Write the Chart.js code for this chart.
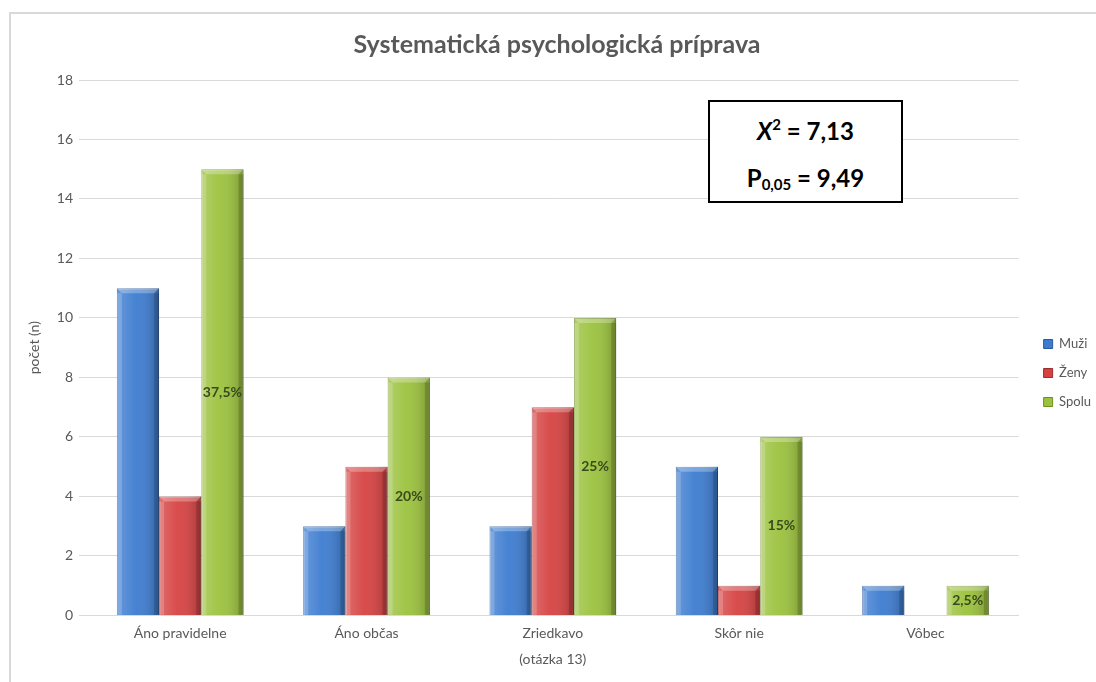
<html>
  <head>
    <script src="https://cdn.jsdelivr.net/npm/chart.js@4.4.1/dist/chart.umd.min.js"></script>
    <style>
      body { margin:0; background:#fff; }
      #frame {
        position:absolute; left:9px; top:12px; width:1100px; height:700px;
        border-left:2px solid #d9d9d9; border-top:2px solid #d9d9d9;
      }
      #wrap { position:absolute; left:0; top:0; width:1096px; height:682px; }
      #stat {
        position:absolute; left:708px; top:100px; width:191px; height:99px;
        border:2px solid #000; background:#fff;
        font-family:Lato, "Open Sans", sans-serif; font-weight:bold; font-size:24px; color:#000;
        text-align:center;
      }
      #stat p { margin:0; position:absolute; left:0; width:100%; height:30px; line-height:30px; }
      #stat sup { font-size:15px; vertical-align:10px; line-height:0; }
      #stat sub { font-size:15px; vertical-align:-3px; line-height:0; }
    </style>
  </head>
  <body>
    <div id="frame"></div>
    <div id="wrap"><canvas id="bar-chart" width="1096" height="682"></canvas></div>
    <div id="stat">
      <p style="top:14px"><i>X</i><sup>2</sup> = 7,13</p>
      <p style="top:61px">P<sub>0,05</sub> = 9,49</p>
    </div>
  </body>

  <script>
    var cats = ['Áno pravidelne', 'Áno občas', 'Zriedkavo', 'Skôr nie', 'Vôbec'];
    var muzi = [11, 3, 3, 5, 1];
    var zeny = [4, 5, 7, 1, 0];
    var spolu = [15, 8, 10, 6, 1];
    var spoluPct = ['37,5%', '20%', '25%', '15%', '2,5%'];
    var yTicks = [0, 2, 4, 6, 8, 10, 12, 14, 16, 18];

    var txt = '#595959';
    var font = 'Lato, "Open Sans", sans-serif';

    // bevel / shading on top of each bar, like the office 3d look
    var bevel = {
      id: 'bevel',
      afterDatasetDraw: function(chart, args) {
        var ctx = chart.ctx;
        args.meta.data.forEach(function(bar) {
          var p = bar.getProps(['x', 'y', 'width', 'base'], true);
          var l = p.x - p.width / 2, r = p.x + p.width / 2, t = p.y, b = p.base;
          if (b - t < 1) return;
          ctx.save();
          var g = ctx.createLinearGradient(l, 0, r, 0);
          g.addColorStop(0, 'rgba(255,255,255,0.22)');
          g.addColorStop(0.45, 'rgba(255,255,255,0.05)');
          g.addColorStop(1, 'rgba(0,0,0,0.22)');
          ctx.fillStyle = g;
          ctx.fillRect(l, t, r - l, b - t);
          var d = Math.min(5, (b - t) / 2);
          ctx.fillStyle = 'rgba(255,255,255,0.28)';
          ctx.beginPath();
          ctx.moveTo(l, t); ctx.lineTo(r, t); ctx.lineTo(r - d, t + d); ctx.lineTo(l + d, t + d);
          ctx.closePath(); ctx.fill();
          ctx.fillStyle = 'rgba(255,255,255,0.18)';
          ctx.fillRect(l, t + d, d, b - t - d);
          ctx.fillStyle = 'rgba(0,0,0,0.15)';
          ctx.fillRect(r - d, t + d, d, b - t - d);
          ctx.restore();
        });
      }
    };

    var pctLabels = {
      id: 'pctLabels',
      afterDatasetsDraw: function(chart) {
        var ctx = chart.ctx;
        var meta = chart.getDatasetMeta(2);
        ctx.save();
        ctx.font = 'bold 14px ' + font;
        ctx.fillStyle = '#3a4a1c';
        ctx.textAlign = 'center';
        ctx.textBaseline = 'middle';
        meta.data.forEach(function(bar, i) {
          var p = bar.getProps(['x', 'y', 'base'], true);
          ctx.fillText(spoluPct[i], p.x, (p.y + p.base) / 2);
        });
        ctx.restore();
      }
    };

    // legend sits a bit further right and lower than chart.js puts it
    var legendShift = {
      id: 'legendShift',
      afterLayout: function(chart) {
        var lg = chart.legend;
        lg.left += 9; lg.right += 9;
        lg.top += 37; lg.bottom += 37;
      }
    };

    new Chart(document.getElementById('bar-chart'), {
      type: 'bar',
      data: {
        labels: cats,
        datasets: [
          { label: 'Muži', data: muzi, backgroundColor: '#3d7cd0', borderColor: '#2b5a9c', borderWidth: 1 },
          { label: 'Ženy', data: zeny, backgroundColor: '#d64242', borderColor: '#9e2a2a', borderWidth: 1 },
          { label: 'Spolu', data: spolu, backgroundColor: '#9bc23d', borderColor: '#6f8f25', borderWidth: 1 }
        ]
      },
      options: {
        responsive: false,
        animation: false,
        layout: { padding: { left: 22, right: 4, top: 0, bottom: 10 } },
        datasets: { bar: { categoryPercentage: 0.68, barPercentage: 1.0 } },
        plugins: {
          title: {
            display: true,
            text: 'Systematická psychologická príprava',
            color: txt,
            font: { family: font, size: 25, weight: 'bold' },
            padding: { top: 30, bottom: 20 }
          },
          legend: {
            position: 'right',
            labels: {
              color: txt,
              font: { family: font, size: 13 },
              boxWidth: 9, boxHeight: 9,
              padding: 16
            }
          },
          tooltip: { enabled: false }
        },
        scales: {
          x: {
            grid: { display: false },
            border: { color: '#d9d9d9' },
            ticks: { color: txt, font: { family: font, size: 14 }, padding: 2 },
            title: { display: true, text: '(otázka 13)', color: txt, font: { family: font, size: 14 }, padding: { top: 7 } }
          },
          y: {
            min: 0, max: 18,
            afterBuildTicks: function(axis) { axis.ticks = yTicks.map(function(v) { return { value: v }; }); },
            grid: { color: '#d9d9d9', tickLength: 8 },
            border: { display: false },
            ticks: { color: txt, font: { family: font, size: 14 }, padding: 6 },
            title: { display: true, text: 'počet (n)', color: txt, font: { family: font, size: 14 }, padding: { bottom: 8 } }
          }
        }
      },
      plugins: [bevel, pctLabels, legendShift]
    });
  </script>
</html>
